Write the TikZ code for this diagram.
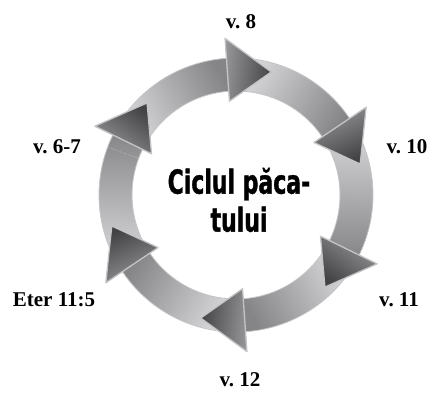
\documentclass[tikz,border=0pt]{standalone}
\usepackage{fontspec}
\newfontfamily\cyclefont[FakeStretch=0.74,FakeBold=1.2]{DejaVuSansCondensed-Bold.ttf}
\newfontfamily\versefont{Liberation Serif}
\usetikzlibrary{positioning}
\definecolor{cshaftlight}{HTML}{D4D4D6}
\definecolor{cshaftdark}{HTML}{858587}
\definecolor{cheadlight}{HTML}{959597}
\definecolor{cheaddark}{HTML}{434345}
\definecolor{cedge}{HTML}{C4C4C6}

\tikzset{
  cycleshaft/.style={top color=cshaftlight,bottom color=cshaftdark,draw=cedge,line width=0.8pt},
  cyclehead/.style={top color=cheadlight,bottom color=cheaddark,draw=cedge,line width=1.3pt,line join=round},
  verse/.style={font=\versefont\frenchspacing\bfseries\fontsize{21}{23}\selectfont},
  title/.style={font=\cyclefont\fontsize{33}{38}\selectfont,align=center}
}

\begin{document}
\begin{tikzpicture}[x=1pt,y=1pt]
    \useasboundingbox (0,0) rectangle (437,392);

    % ring of six arrows, clockwise
    \begin{scope}[shift={(236,197)}]
      \foreach \t [evaluate=\t as \m using \t+45] in {74,14,-46,-106,-166,134}
        \path[cycleshaft,shading angle=\m] (\t+72:137pt) arc[start angle=\t+72,end angle=\t+18,radius=137pt]
          -- (\t+18:104pt) arc[start angle=\t+18,end angle=\t+72,radius=104pt] -- cycle;
      % faint seam on the left shaft
      \draw[white!80!gray,densely dotted,line width=0.4pt] (159.5:105pt) -- (159.5:136pt);
      \foreach \t [evaluate=\t as \h using \t+10] in {74,14,-46,-106,-166,134}
        \path[cyclehead,shading angle=\h] (\t+20:157pt) -- (\t:128pt) -- (\t+20:94pt) -- cycle;
    \end{scope}

    \node[title] (cycle) at (239,192) {Ciclul păca-\\tului};

    \node[verse] (v8) at (241,370) {v. 8};
    \node[verse] (v10) at (407,245) {v. 10};
    \node[verse] (v11) at (399,92) {v. 11};
    \node[verse] (v12) at (240,12) {v. 12};
    \node[verse] (eter) at (54,92) {Eter 11:5};
    \node[verse] (v67) at (57,245) {v. 6-7};
  \end{tikzpicture}
\end{document}
